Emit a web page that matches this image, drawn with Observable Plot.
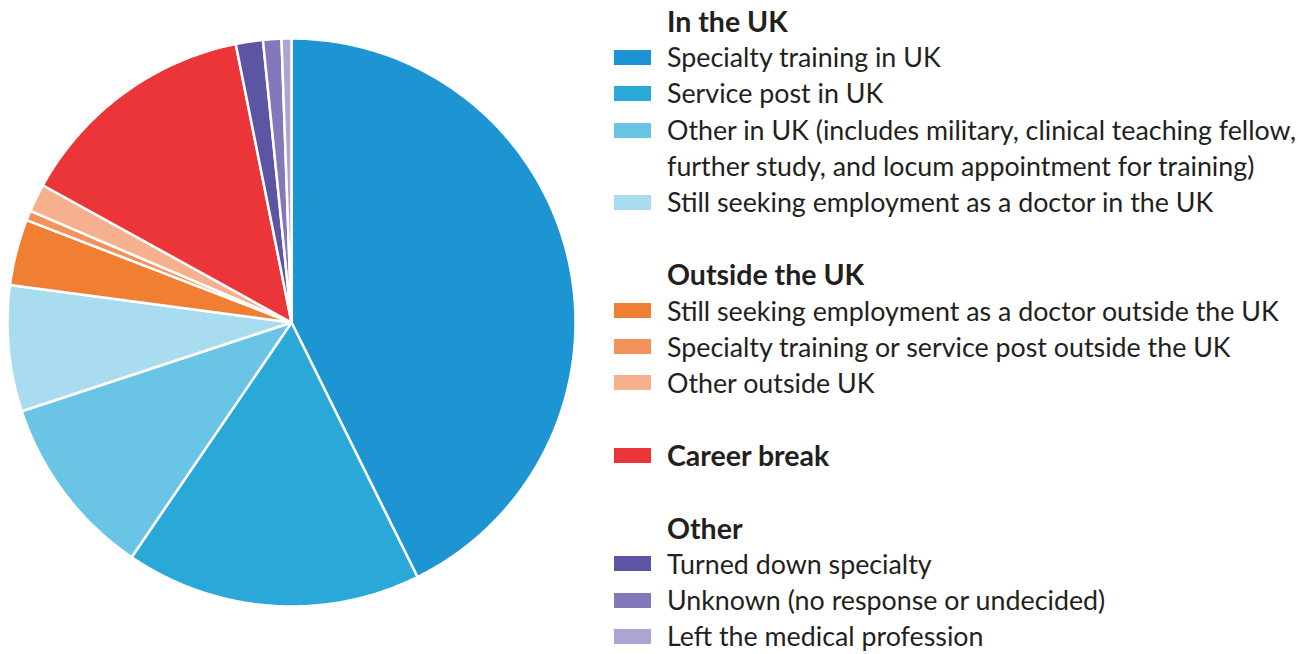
<!DOCTYPE html>
<html>
<head>
<meta charset="utf-8">
<script src="https://cdn.jsdelivr.net/npm/d3@7"></script>
<script src="https://cdn.jsdelivr.net/npm/@observablehq/plot@0.6"></script>
<style>
  html, body { margin: 0; padding: 0; background: #fff; }
  #wrap { position: relative; width: 1298px; height: 654px; overflow: hidden; }
  #chart { position: absolute; left: 0; top: 0; }
  #legend { position: absolute; left: 614px; top: 3px; font-family: Lato, "Open Sans", sans-serif; font-size: 26.8px; color: #231f20; line-height: 36.2px; }
  .row { display: flex; align-items: center; height: 36.2px; white-space: nowrap; }
  .row.wrap { height: 72.4px; align-items: flex-start; }
  .row.wrap .sw { margin-top: 11px; }
  .sw { width: 37px; height: 15px; margin-right: 16px; flex: none; }
  .head { font-weight: 700; padding-left: 53px; font-size: 28.5px; }
  .gap { height: 36.2px; }
  .txt { white-space: pre-line; }
</style>
</head>
<body>
<div id="wrap"><div id="chart"></div><div id="legend"></div></div>
<script>
// Categories in clockwise order from 12 o'clock
const categories = [
  "Specialty training in UK",
  "Service post in UK",
  "Other in UK (includes military, clinical teaching fellow,\nfurther study, and locum appointment for training)",
  "Still seeking employment as a doctor in the UK",
  "Still seeking employment as a doctor outside the UK",
  "Specialty training or service post outside the UK",
  "Other outside UK",
  "Career break",
  "Turned down specialty",
  "Unknown (no response or undecided)",
  "Left the medical profession"
];
// Estimated shares (%)
const shares = [42.6, 16.8, 10.4, 7.15, 3.76, 0.55, 1.6, 13.8, 1.54, 1.04, 0.56];
const colors = ["#1e95d3", "#2aa8d8", "#69c4e6", "#a9dcef", "#f07f33", "#f3925a", "#f7b08d", "#ec3538", "#5b55a3", "#8478bb", "#ada4d4"];

const groups = [
  {heading: "In the UK", items: [0, 1, 2, 3]},
  {heading: "Outside the UK", items: [4, 5, 6]},
  {heading: null, items: [7], bold: true},
  {heading: "Other", items: [8, 9, 10]}
];

// Compute wedge outlines with d3.pie (angles clockwise from top)
const pie = d3.pie().sort(null).value(d => d.value)(categories.map((c, i) => ({category: c, value: shares[i]})));
const pts = [];
pie.forEach(a => {
  const cat = a.data.category;
  pts.push({category: cat, x: 0, y: 0});
  const n = Math.max(2, Math.ceil((a.endAngle - a.startAngle) / 0.01));
  for (let k = 0; k <= n; k++) {
    const t = a.startAngle + (a.endAngle - a.startAngle) * k / n;
    pts.push({category: cat, x: Math.sin(t), y: Math.cos(t)});
  }
});

const plot = Plot.plot({
  width: 600,
  height: 654,
  marginLeft: 7,
  marginRight: 25,
  marginTop: 38,
  marginBottom: 48,
  x: {domain: [-1, 1], axis: null},
  y: {domain: [-1, 1], axis: null},
  color: {domain: categories, range: colors},
  marks: [
    Plot.line(pts, {x: "x", y: "y", z: "category", fill: "category", stroke: "white", strokeWidth: 2.5, strokeLinejoin: "round", curve: "linear-closed"})
  ]
});
document.getElementById("chart").appendChild(plot);

// Legend
const legend = document.getElementById("legend");
groups.forEach((g, gi) => {
  if (gi > 0) { const gap = document.createElement("div"); gap.className = "gap"; legend.appendChild(gap); }
  if (g.heading) {
    const h = document.createElement("div");
    h.className = "row head";
    h.textContent = g.heading;
    legend.appendChild(h);
  }
  g.items.forEach(i => {
    const r = document.createElement("div");
    r.className = "row" + (categories[i].includes("\n") ? " wrap" : "");
    const sw = document.createElement("div");
    sw.className = "sw";
    sw.style.background = colors[i];
    const t = document.createElement("div");
    t.className = "txt";
    t.textContent = categories[i];
    if (g.bold) { t.style.fontWeight = "700"; t.style.fontSize = "28.5px"; }
    r.appendChild(sw); r.appendChild(t);
    legend.appendChild(r);
  });
});
</script>
</body>
</html>
